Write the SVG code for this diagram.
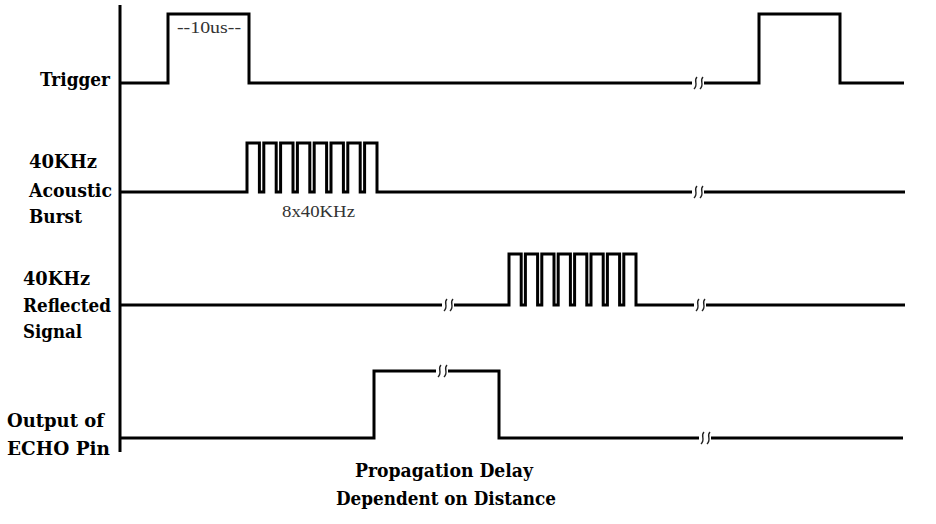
<svg xmlns="http://www.w3.org/2000/svg" width="936" height="524" viewBox="0 0 936 524">
<defs>
<style>
.wave{fill:none;stroke:#000;stroke-width:3;stroke-linejoin:miter;stroke-linecap:butt}
.lbl{font-family:"DejaVu Serif","Liberation Serif",serif;font-weight:bold;font-size:18px;fill:#000}
.note{font-family:"Liberation Serif","Times New Roman",serif;font-size:17px;fill:#333}
.sq{fill:none;stroke:#222;stroke-width:1.4}
</style>
<g id="brk">
<rect x="-6" y="-8" width="12" height="16" fill="#fff"/>
<path class="sq" d="M-1,-6 C-5,-2 1,1 -4,6"/>
<path class="sq" d="M5,-6 C1,-2 7,1 2,6"/>
</g>
</defs>
<rect width="936" height="524" fill="#fff"/>
<path id="axis" class="wave" d="M120 5 V452"/>
<g id="trigger">
<text class="lbl" x="40" y="86" textLength="70" lengthAdjust="spacingAndGlyphs">Trigger</text>
<path class="wave" d="M120 83 H168 V14 H249 V83 H759 V14 H840 V83 H904"/>
<text class="note" x="177" y="33" textLength="64" lengthAdjust="spacingAndGlyphs" font-size="16">--10us--</text>
<use href="#brk" x="698" y="83"/>
</g>
<g id="acoustic">
<text class="lbl" x="29" y="168" textLength="68" lengthAdjust="spacingAndGlyphs">40KHz</text>
<text class="lbl" x="29" y="197" textLength="83" lengthAdjust="spacingAndGlyphs">Acoustic</text>
<text class="lbl" x="29" y="223" textLength="53" lengthAdjust="spacingAndGlyphs">Burst</text>
<path class="wave" d="M120 192 H247 V143 H259.4 V192 H263.8 V143 H276.2 V192 H280.6 V143 H293 V192 H297.4 V143 H309.8 V192 H314.2 V143 H326.6 V192 H331 V143 H343.4 V192 H347.8 V143 H360.2 V192 H364.6 V143 H377 V192 H905"/>
<text class="note" x="282" y="217" textLength="73" lengthAdjust="spacingAndGlyphs">8x40KHz</text>
<use href="#brk" x="698" y="192"/>
</g>
<g id="reflected">
<text class="lbl" x="23" y="285" textLength="67" lengthAdjust="spacingAndGlyphs">40KHz</text>
<text class="lbl" x="23" y="312" textLength="88" lengthAdjust="spacingAndGlyphs">Reflected</text>
<text class="lbl" x="23" y="338" textLength="59" lengthAdjust="spacingAndGlyphs">Signal</text>
<path class="wave" d="M120 305 H509 V254 H521.2 V305 H525.4 V254 H537.6 V305 H541.8 V254 H554 V305 H558.2 V254 H570.4 V305 H574.6 V254 H586.8 V305 H591 V254 H603.2 V305 H607.4 V254 H619.6 V305 H623.8 V254 H636 V305 H905"/>
<use href="#brk" x="448" y="305"/>
<use href="#brk" x="700" y="305"/>
</g>
<g id="echo">
<text class="lbl" x="7" y="427" textLength="97" lengthAdjust="spacingAndGlyphs">Output of</text>
<text class="lbl" x="7" y="455" textLength="103" lengthAdjust="spacingAndGlyphs">ECHO Pin</text>
<path class="wave" d="M120 438 H374 V371 H499 V438 H903"/>
<use href="#brk" x="442" y="371"/>
<use href="#brk" x="705" y="438"/>
</g>
<g id="delay">
<text class="lbl" x="355" y="477" textLength="178" lengthAdjust="spacingAndGlyphs">Propagation Delay</text>
<text class="lbl" x="336" y="505" textLength="220" lengthAdjust="spacingAndGlyphs">Dependent on Distance</text>
</g>
</svg>
